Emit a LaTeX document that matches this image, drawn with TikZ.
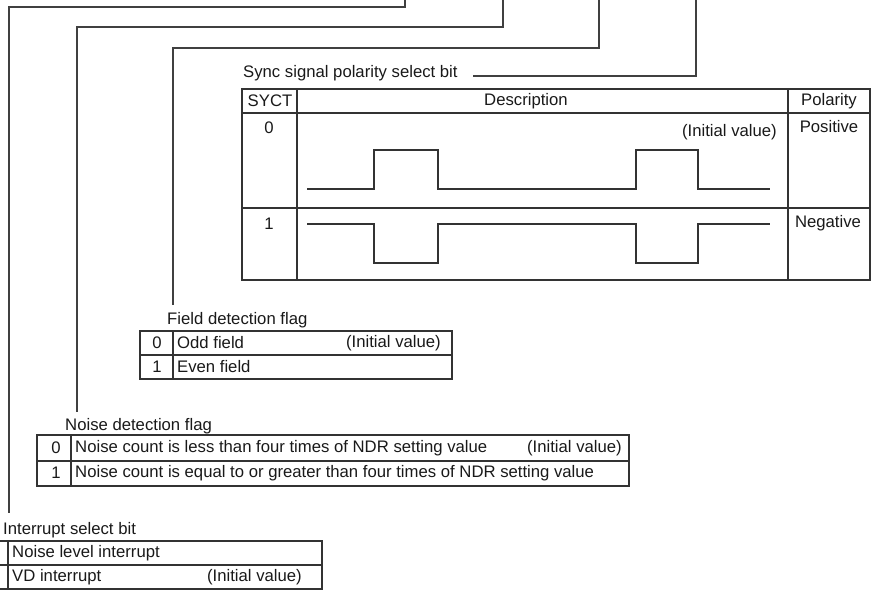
\documentclass[tikz,border=0pt]{standalone}
\usepackage{fontspec}
\setmainfont{Liberation Sans}
\begin{document}
\begin{tikzpicture}[x=1pt,y=-1pt,
  ln/.style={draw=black!75,line width=1.2pt},
  tbl/.style={draw=black!80,line width=1.2pt},
  wave/.style={draw=black!80,line width=1.2pt},
  txt/.style={inner sep=0pt,font=\fontsize{16.7}{19}\selectfont,text=black!90},
  lt/.style={txt,anchor=west},
  rt/.style={txt,anchor=east},
  ct/.style={txt,anchor=center}]
\useasboundingbox (0,0) rectangle (872,593);
\clip (0,0) rectangle (872,593);
% leader lines
\coordinate (l1t) at (405,0); \coordinate (l1e) at (9,513);
\coordinate (l2t) at (503,0); \coordinate (l2e) at (77,412);
\coordinate (l3t) at (599,0); \coordinate (l3e) at (173,305);
\coordinate (l4t) at (696,0); \coordinate (l4e) at (473,76);
\draw[ln] (l1t) -- (405,7) -- (9,7) -- (l1e);
\draw[ln] (l2t) -- (503,27) -- (77,27) -- (l2e);
\draw[ln] (l3t) -- (599,48) -- (173,48) -- (l3e);
\draw[ln] (l4t) |- (l4e);
% Sync table
\node[lt] (synct) at (243,73) {Sync signal polarity select bit};
\draw[tbl] (242,89) rectangle (870,280);
\draw[tbl] (297,89) -- (297,280);
\draw[tbl] (788,89) -- (788,280);
\draw[tbl] (242,113) -- (870,113);
\draw[tbl] (242,208) -- (870,208);
\node[ct] (hsyct) at (270,101) {SYCT};
\node[ct] (hdesc) at (526,101) {Description};
\node[ct] (hpol) at (829,101) {Polarity};
\node[ct] (s0) at (269,128) {0};
\node[ct] (s1) at (269,224) {1};
\node[rt] (sinit) at (777,132) {(Initial value)};
\node[ct] (spos) at (829,127) {Positive};
\node[ct] (sneg) at (828,223) {Negative};
\draw[wave] (307,189) -- (374,189) -- (374,150) -- (438,150) -- (438,189) -- (636,189) -- (636,150) -- (698,150) -- (698,189) -- (770,189);
\draw[wave] (307,224) -- (374,224) -- (374,263) -- (438,263) -- (438,224) -- (636,224) -- (636,263) -- (698,263) -- (698,224) -- (770,224);
% Field detection table
\node[lt] (fieldt) at (167,320) {Field detection flag};
\draw[tbl] (140,331) rectangle (452,379);
\draw[tbl] (173,331) -- (173,379);
\draw[tbl] (140,355) -- (452,355);
\node[ct] (f0) at (157,343) {0};
\node[ct] (f1) at (157,367) {1};
\node[lt] (fodd) at (177,343) {Odd field};
\node[rt] (finit) at (441,343) {(Initial value)};
\node[lt] (feven) at (177,367) {Even field};
% Noise detection table
\node[lt] (noiset) at (65,426) {Noise detection flag};
\draw[tbl] (37,435) rectangle (629,486);
\draw[tbl] (71,435) -- (71,486);
\draw[tbl] (37,461) -- (629,461);
\node[ct] (n0) at (56,448) {0};
\node[ct] (n1) at (56,473) {1};
\node[lt] (nless) at (75,448) {Noise count is less than four times of NDR setting value};
\node[rt] (ninit) at (622,448) {(Initial value)};
\node[lt] (ngeq) at (75,473) {Noise count is equal to or greater than four times of NDR setting value};
% Interrupt select table
\node[lt] (intt) at (3,530) {Interrupt select bit};
\draw[tbl] (-26,541) rectangle (322,589);
\draw[tbl] (8,541) -- (8,589);
\draw[tbl] (-26,565) -- (322,565);
\node[lt] (inl) at (12,553) {Noise level interrupt};
\node[lt] (ivd) at (12,577) {VD interrupt};
\node[rt] (iinit) at (302,577) {(Initial value)};
\end{tikzpicture}
\end{document}
